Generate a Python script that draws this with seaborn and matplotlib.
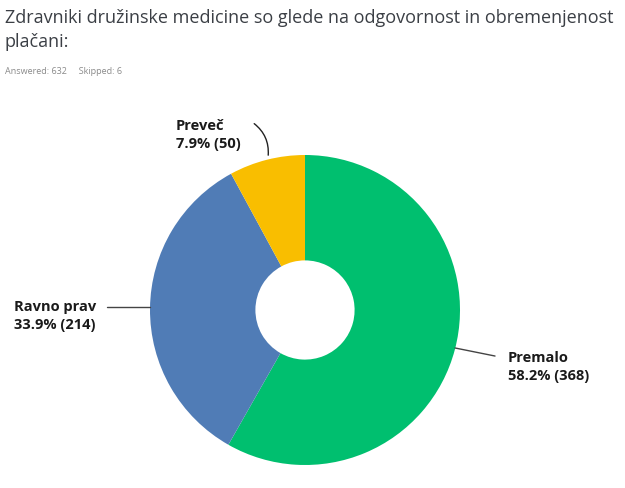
import matplotlib
matplotlib.use("Agg")
import matplotlib.pyplot as plt
import seaborn as sns

categories = ["Premalo", "Ravno prav", "Preveč"]
percents = [58.2, 33.9, 7.9]
counts = [368, 214, 50]
colors = ["#00BF6F", "#507CB6", "#F9BE00"]

sns.set_theme(style="white")
plt.rcParams['font.family'] = ['Open Sans', 'DejaVu Sans']

fig = plt.figure(figsize=(6.25, 4.88), dpi=100)
fig.text(5/625, 1 - 18/488, "Zdravniki družinske medicine so glede na odgovornost in obremenjenost",
         fontsize=13, color="#3b3f45", va="center", ha="left")
fig.text(5/625, 1 - 42/488, "plačani:", fontsize=13, color="#3b3f45", va="center", ha="left")
fig.text(5/625, 1 - 71/488, "Answered: 632     Skipped: 6", fontsize=6.5, color="#8a8a8a",
         va="center", ha="left")

ax = fig.add_axes([150/625, 23/488, 310/625, 310/488])
ax.pie(counts, colors=colors, startangle=90, counterclock=False,
       radius=1.0, wedgeprops=dict(width=0.68, edgecolor="none"))
ax.set_xlim(-1, 1)
ax.set_ylim(-1, 1)
ax.set_aspect("equal")
ax.axis("off")

label_pos = {
    "Premalo": (1.31, -0.37),
    "Ravno prav": (-1.877, -0.04),
    "Preveč": (-0.832, 1.13),
}
lines = {
    "Premalo": [(0.968, -0.245), (1.226, -0.297)],
    "Ravno prav": [(-1.0, 0.019), (-1.277, 0.019)],
    "Preveč": [(-0.239, 0.981), (-0.342, 1.213)],
}
for cat, pct, cnt in zip(categories, percents, counts):
    x, y = label_pos[cat]
    ax.text(x, y, f"{cat}\n{pct}% ({cnt})", fontsize=10.5, fontweight="bold",
            color="#1a1a1a", ha="left", va="center", linespacing=1.35, clip_on=False)
    (x0, y0), (x1, y1) = lines[cat]
    if cat == "Preveč":
        ax.annotate("", xy=(x0, y0), xytext=(x1, y1),
                    arrowprops=dict(arrowstyle="-", color="#222222", lw=1.0,
                                    connectionstyle="arc3,rad=-0.3"),
                    annotation_clip=False)
    else:
        ax.plot([x0, x1], [y0, y1], color="#444444", lw=1.0, clip_on=False)

fig.savefig("out.png", dpi=100, facecolor="white")
